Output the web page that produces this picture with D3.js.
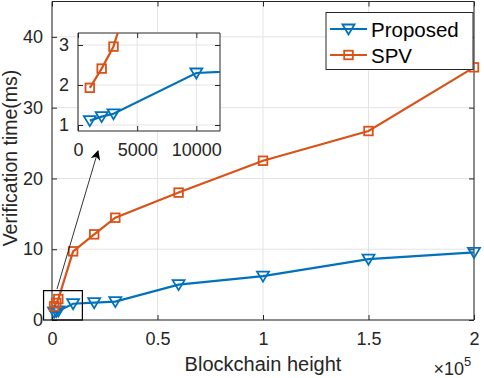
<!DOCTYPE html>
<html>
<head>
<meta charset="utf-8">
<script src="https://cdn.jsdelivr.net/npm/d3@7"></script>
<style>
  body { margin: 0; background: #fff; }
  svg { font-family: "Liberation Sans", Arial, sans-serif; }
</style>
</head>
<body>
<svg width="484" height="378"></svg>
<script>
var blockHeights = [1000, 2000, 3000, 10000, 20000, 30000, 60000, 100000, 150000, 200000];
var proposedTime = [1.11, 1.21, 1.28, 2.30, 2.45, 2.6, 5.0, 6.2, 8.6, 9.55];
var spvTime = [1.93, 2.41, 2.96, 9.7, 12.1, 14.45, 18.0, 22.5, 26.7, 35.7];
var seriesNames = ["Proposed", "SPV"];
var xTicks = [0, 50000, 100000, 150000, 200000];
var xTickLabels = ["0", "0.5", "1", "1.5", "2"];
var yTicks = [0, 10, 20, 30, 40];
var insetXTicks = [0, 5000, 10000];
var insetYTicks = [1, 2, 3];

var blue = "#0072BD", orange = "#D95319", axisCol = "#262626", gridCol = "#e3e3e3";

var svg = d3.select("svg");

var plotLeft = 52, plotRight = 474, plotTop = 1.5, plotBottom = 320;

var x = d3.scaleLinear().domain([0, 200000]).range([plotLeft, plotRight]);
var y = d3.scaleLinear().domain([0, 45]).range([plotBottom, plotTop]);

var series = [
  { name: seriesNames[0], values: proposedTime, color: blue, marker: "tri" },
  { name: seriesNames[1], values: spvTime, color: orange, marker: "sq" }
];

function drawMarker(g, kind, color) {
  if (kind === "sq") {
    g.append("rect").attr("x", -4.3).attr("y", -4.3).attr("width", 8.6).attr("height", 8.6)
      .attr("fill", "none").attr("stroke", color).attr("stroke-width", 1.8);
  } else {
    g.append("path").attr("d", "M-6,-4.5L6,-4.5L0,5.5Z")
      .attr("fill", "none").attr("stroke", color).attr("stroke-width", 1.8);
  }
}

function drawPanel(g, xs, ys, xt, xtl, yt, fontSize) {
  var x0 = xs.range()[0], x1 = xs.range()[1], y0 = ys.range()[0], y1 = ys.range()[1];
  g.append("rect").attr("x", x0).attr("y", y1).attr("width", x1 - x0).attr("height", y0 - y1)
    .attr("fill", "#fff");
  // grid
  g.selectAll(".gx").data(xt).enter().append("line")
    .attr("x1", d => xs(d)).attr("x2", d => xs(d)).attr("y1", y0).attr("y2", y1)
    .attr("stroke", gridCol).attr("stroke-width", 1);
  g.selectAll(".gy").data(yt).enter().append("line")
    .attr("y1", d => ys(d)).attr("y2", d => ys(d)).attr("x1", x0).attr("x2", x1)
    .attr("stroke", gridCol).attr("stroke-width", 1);
  // axes with inward ticks
  var ax = g.append("g").attr("transform", "translate(0," + y0 + ")")
    .call(d3.axisBottom(xs).tickValues(xt).tickSize(-5).tickPadding(12)
      .tickFormat((d, i) => xtl ? xtl[i] : d));
  var ay = g.append("g").attr("transform", "translate(" + x0 + ",0)")
    .call(d3.axisLeft(ys).tickValues(yt).tickSize(-5).tickPadding(9).tickFormat(d3.format("d")));
  var at = g.append("g").attr("transform", "translate(0," + y1 + ")")
    .call(d3.axisTop(xs).tickValues(xt).tickSize(-5).tickFormat(""));
  var ar = g.append("g").attr("transform", "translate(" + x1 + ",0)")
    .call(d3.axisRight(ys).tickValues(yt).tickSize(-5).tickFormat(""));
  [ax, ay, at, ar].forEach(function(a) {
    a.select(".domain").attr("stroke", axisCol).attr("stroke-width", 1);
    a.selectAll(".tick line").attr("stroke", axisCol);
    a.selectAll("text").attr("fill", axisCol).style("font-size", fontSize + "px")
      .style("font-family", "'Liberation Sans', Arial, sans-serif");
  });
  ax.selectAll(".domain").attr("d", "M" + x0 + ",0H" + x1);
  ay.selectAll(".domain").attr("d", "M0," + y0 + "V" + y1);
  at.selectAll(".domain").attr("d", "M" + x0 + ",0H" + x1);
  ar.selectAll(".domain").attr("d", "M0," + y0 + "V" + y1);
}

function drawSeries(g, xs, ys, clipId) {
  var line = d3.line().x((d, i) => xs(blockHeights[i])).y(d => ys(d));
  var cg = g.append("g");
  if (clipId) cg.attr("clip-path", "url(#" + clipId + ")");
  series.forEach(function(s) {
    cg.append("path").datum(s.values).attr("d", line)
      .attr("fill", "none").attr("stroke", s.color).attr("stroke-width", 2.2);
  });
  series.forEach(function(s) {
    s.values.forEach(function(v, i) {
      var px = xs(blockHeights[i]), py = ys(v);
      if (clipId && (px < xs.range()[0] || px > xs.range()[1] || py < ys.range()[1] || py > ys.range()[0])) return;
      drawMarker(cg.append("g").attr("transform", "translate(" + px + "," + py + ")"), s.marker, s.color);
    });
  });
}

var defs = svg.append("defs");

// main axes
var main = svg.append("g");
drawPanel(main, x, y, xTicks, xTickLabels, yTicks, 18);
drawSeries(main, x, y, null);

// zoom box on main plot
main.append("rect")
  .attr("x", x(-4000)).attr("y", y(4.15))
  .attr("width", x(14400) - x(-4000)).attr("height", y(0) - y(4.15))
  .attr("fill", "none").attr("stroke", "#000").attr("stroke-width", 1.2);

// axis labels
svg.append("text").attr("x", (plotLeft + plotRight) / 2).attr("y", 371).attr("text-anchor", "middle")
  .attr("fill", axisCol).style("font-size", "20px").text("Blockchain height");
svg.append("text").attr("transform", "translate(17,158) rotate(-90)")
  .attr("text-anchor", "middle").attr("fill", axisCol).style("font-size", "19.5px")
  .text("Verification time(ms)");
svg.append("text").attr("x", 464).attr("y", 375).attr("text-anchor", "end")
  .attr("fill", axisCol).style("font-size", "18px").text("\u00d710");
svg.append("text").attr("x", 464).attr("y", 366).attr("fill", axisCol)
  .style("font-size", "13px").text("5");

// arrow
defs.append("marker").attr("id", "ah").attr("viewBox", "0 0 10 10")
  .attr("refX", 9).attr("refY", 5).attr("markerWidth", 10).attr("markerHeight", 10)
  .attr("markerUnits", "userSpaceOnUse").attr("orient", "auto")
  .append("path").attr("d", "M0,0L10,5L0,10L3,5Z").attr("fill", "#000");
svg.append("line").attr("x1", 57).attr("y1", 289).attr("x2", 98).attr("y2", 151)
  .attr("stroke", "#000").attr("stroke-width", 0.8).attr("marker-end", "url(#ah)");

// inset
var ix = d3.scaleLinear().domain([0, 12000]).range([78, 220]);
var iy = d3.scaleLinear().domain([0.85, 3.3]).range([131, 33]);
defs.append("clipPath").attr("id", "insetClip").append("rect")
  .attr("x", 78).attr("y", 33).attr("width", 142).attr("height", 98);
var inset = svg.append("g");
drawPanel(inset, ix, iy, insetXTicks, null, insetYTicks, 18);
drawSeries(inset, ix, iy, "insetClip");

// legend
var lg = svg.append("g");
lg.append("rect").attr("x", 326).attr("y", 12.5).attr("width", 147).attr("height", 57)
  .attr("fill", "#fff").attr("stroke", axisCol).attr("stroke-width", 1);
series.forEach(function(s, i) {
  var ly = 29 + i * 26;
  lg.append("line").attr("x1", 330).attr("x2", 367).attr("y1", ly).attr("y2", ly)
    .attr("stroke", s.color).attr("stroke-width", 2.2);
  drawMarker(lg.append("g").attr("transform", "translate(348.5," + ly + ")"), s.marker, s.color);
  lg.append("text").attr("x", 371).attr("y", ly + 7.5).attr("fill", "#000")
    .style("font-size", "20.5px").text(s.name);
});
</script>
</body>
</html>
